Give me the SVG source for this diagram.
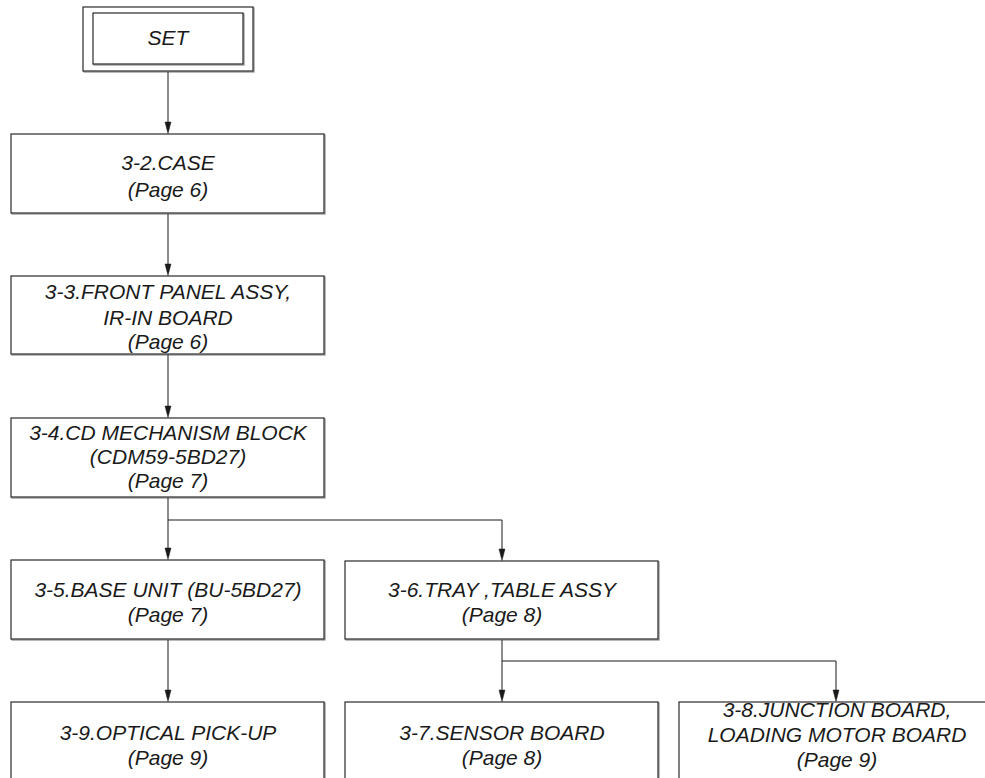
<svg xmlns="http://www.w3.org/2000/svg" width="985" height="778" viewBox="0 0 985 778">
<style>
.bx{fill:#fff;stroke:#2a2a2a;stroke-width:1.2}
.sh{fill:none;stroke:#8a8a8a;stroke-width:1.2}
.t{font-family:"Liberation Sans",Arial,sans-serif;font-style:italic;font-size:21px;fill:#1a1a1a;text-anchor:middle}
.ln{fill:none;stroke:#1a1a1a;stroke-width:1}
.ah{fill:#1a1a1a;stroke:#1a1a1a;stroke-width:0.5}
</style>
<rect width="985" height="778" fill="#fff"/>
<g id="set">
<rect class="sh" x="84" y="8" width="170" height="64"/>
<rect class="bx" x="83" y="7" width="170" height="64"/>
<rect class="sh" x="94" y="14" width="150" height="51"/>
<rect class="bx" x="93" y="13" width="150" height="51"/>
<text class="t" x="168" y="45">SET</text>
</g>
<g id="case">
<rect class="sh" x="12" y="135" width="313" height="79"/>
<rect class="bx" x="11" y="134" width="313" height="79"/>
<text class="t" x="168" y="170">3-2.CASE</text>
<text class="t" x="168" y="197">(Page 6)</text>
</g>
<g id="front">
<rect class="sh" x="12" y="277" width="313" height="78"/>
<rect class="bx" x="11" y="276" width="313" height="78"/>
<text class="t" x="168" y="299">3-3.FRONT PANEL ASSY,</text>
<text class="t" x="168" y="325">IR-IN BOARD</text>
<text class="t" x="168" y="349">(Page 6)</text>
</g>
<g id="cdmech">
<rect class="sh" x="12" y="419" width="313" height="79"/>
<rect class="bx" x="11" y="418" width="313" height="79"/>
<text class="t" x="168" y="440">3-4.CD MECHANISM BLOCK</text>
<text class="t" x="168" y="464">(CDM59-5BD27)</text>
<text class="t" x="168" y="488">(Page 7)</text>
</g>
<g id="base">
<rect class="sh" x="12" y="561" width="313" height="79"/>
<rect class="bx" x="11" y="560" width="313" height="79"/>
<text class="t" x="168" y="597">3-5.BASE UNIT (BU-5BD27)</text>
<text class="t" x="168" y="622">(Page 7)</text>
</g>
<g id="tray">
<rect class="sh" x="346" y="562" width="313" height="78"/>
<rect class="bx" x="345" y="561" width="313" height="78"/>
<text class="t" x="502" y="597">3-6.TRAY ,TABLE ASSY</text>
<text class="t" x="502" y="622">(Page 8)</text>
</g>
<g id="optical">
<rect class="sh" x="12" y="703" width="313" height="100"/>
<rect class="bx" x="11" y="702" width="313" height="100"/>
<text class="t" x="168" y="740">3-9.OPTICAL PICK-UP</text>
<text class="t" x="168" y="765">(Page 9)</text>
</g>
<g id="sensor">
<rect class="sh" x="346" y="703" width="313" height="100"/>
<rect class="bx" x="345" y="702" width="313" height="100"/>
<text class="t" x="502" y="740">3-7.SENSOR BOARD</text>
<text class="t" x="502" y="765">(Page 8)</text>
</g>
<g id="junction">
<rect class="bx" x="679" y="702" width="316" height="100"/>
<text class="t" x="837" y="717">3-8.JUNCTION BOARD,</text>
<text class="t" x="837" y="742">LOADING MOTOR BOARD</text>
<text class="t" x="837" y="767">(Page 9)</text>
</g>
<g id="connectors">
<path class="ln" d="M168,72 V124"/>
<path class="ln" d="M168,214 V266"/>
<path class="ln" d="M168,355 V408"/>
<path class="ln" d="M168,498 V550"/>
<path class="ln" d="M168,520 H502 V551"/>
<path class="ln" d="M168,640 V692"/>
<path class="ln" d="M502,640 V692"/>
<path class="ln" d="M502,661 H836 V692"/>
<path class="ah" d="M165,122 L171,122 L168,133.5 Z"/>
<path class="ah" d="M165,264 L171,264 L168,275.5 Z"/>
<path class="ah" d="M165,406 L171,406 L168,417.5 Z"/>
<path class="ah" d="M165,548 L171,548 L168,559.5 Z"/>
<path class="ah" d="M499,549 L505,549 L502,560.5 Z"/>
<path class="ah" d="M165,690 L171,690 L168,701.5 Z"/>
<path class="ah" d="M499,690 L505,690 L502,701.5 Z"/>
<path class="ah" d="M833,690 L839,690 L836,701.5 Z"/>
</g>
</svg>
